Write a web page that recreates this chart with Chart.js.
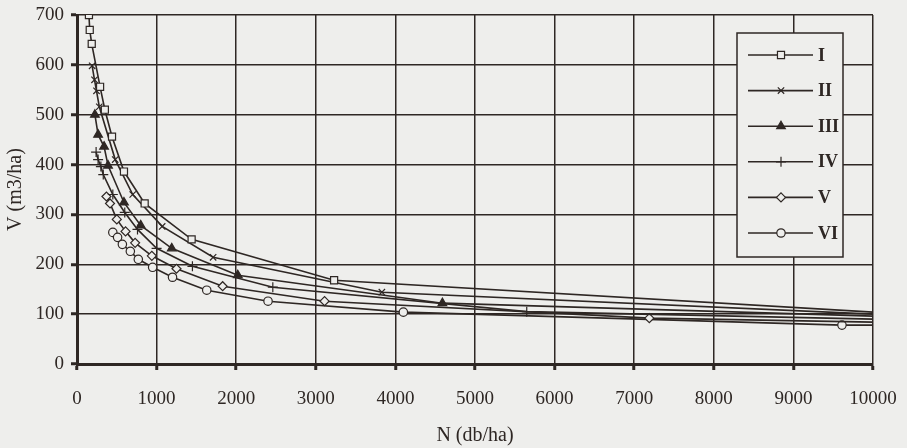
<!DOCTYPE html>
<html>
<head>
<meta charset="utf-8">
<script src="https://cdn.jsdelivr.net/npm/chart.js@4.4.0/dist/chart.umd.min.js"></script>
<style>
  html, body { margin: 0; padding: 0; background: #eeeeec; }
</style>
</head>
<body>
<canvas id="chart" width="907" height="448"></canvas>
<script>
// === V (m3/ha) vs N (db/ha) ===

const seriesLabels = ["I", "II", "III", "IV", "V", "VI"];

const nI   = [150, 160, 185, 290, 350, 440, 590, 850, 1440, 3230, 10000];
const vI   = [700, 670, 642, 556, 510, 456, 386, 322, 250, 168, 104];

const nII  = [190, 220, 245, 280, 480, 700, 1070, 1710, 3830, 10000];
const vII  = [598, 570, 548, 516, 410, 340, 276, 214, 144, 100];

const nIII = [225, 265, 340, 390, 590, 800, 1190, 2020, 4590, 10000];
const vIII = [500, 460, 436, 398, 324, 278, 232, 178, 122, 96];

const nIV  = [240, 265, 300, 330, 450, 600, 760, 1000, 1450, 2460, 5650, 10000];
const vIV  = [425, 410, 396, 380, 340, 304, 270, 232, 196, 154, 105, 90];

const nV   = [370, 415, 500, 610, 730, 940, 1250, 1830, 3110, 7190, 10000];
const vV   = [336, 322, 290, 266, 243, 217, 191, 156, 126, 92, 84];

const nVI  = [450, 510, 570, 670, 770, 950, 1200, 1630, 2400, 4100, 9610, 10000];
const vVI  = [264, 254, 240, 226, 210, 194, 174, 148, 126, 104, 78, 78];

const xTicks = [0, 1000, 2000, 3000, 4000, 5000, 6000, 7000, 8000, 9000, 10000];
const yTicks = [0, 100, 200, 300, 400, 500, 600, 700];

const INK   = "#2e2724";
const PAPER = "#eeeeec";
const FONT  = "'Liberation Serif', 'DejaVu Serif', serif";

const pointStyles = ["rect", "crossRot", "triangle", "cross", "rectRot", "circle"];
const pointRadii  = [5, 4.5, 5, 5, 4.5, 4.2];
const pointFills  = [PAPER, PAPER, INK, PAPER, PAPER, PAPER];

const toPoints = (xs, ys) => xs.map((x, i) => ({ x, y: ys[i] }));
const allSeries = [[nI, vI], [nII, vII], [nIII, vIII], [nIV, vIV], [nV, vV], [nVI, vVI]];

// the lines run on to the 10000 edge without a marker there
const datasets = allSeries.map(([xs, ys], i) => ({
  label: seriesLabels[i],
  data: toPoints(xs, ys),
  borderColor: INK,
  borderWidth: 1.6,
  backgroundColor: pointFills[i],
  pointStyle: pointStyles[i],
  markerRadius: pointRadii[i],
  pointRadius: (ctx) => (ctx.dataIndex === xs.length - 1 ? 0 : pointRadii[i]),
  pointBorderWidth: 1.2,
  pointBorderColor: INK,
  pointBackgroundColor: pointFills[i],
  tension: 0,
  fill: false,
}));

const paperPlugin = {
  id: "paper",
  beforeDraw: (chart) => {
    const ctx = chart.ctx;
    ctx.save();
    ctx.fillStyle = PAPER;
    ctx.fillRect(0, 0, chart.width, chart.height);
    ctx.restore();
  },
};

// legend box inside the plot, top right
const boxLegendPlugin = {
  id: "boxLegend",
  afterDraw: (chart) => {
    const ctx = chart.ctx;
    const left = 737, top = 33, right = 843, bottom = 257;
    ctx.save();
    ctx.fillStyle = PAPER;
    ctx.fillRect(left, top, right - left, bottom - top);
    ctx.strokeStyle = INK;
    ctx.lineWidth = 1.5;
    ctx.strokeRect(left, top, right - left, bottom - top);

    chart.data.datasets.forEach((ds, i) => {
      const y = 55 + i * 35.6;
      ctx.beginPath();
      ctx.strokeStyle = INK;
      ctx.lineWidth = 1.6;
      ctx.moveTo(748, y);
      ctx.lineTo(813, y);
      ctx.stroke();

      ctx.fillStyle = ds.pointBackgroundColor;
      ctx.strokeStyle = INK;
      ctx.lineWidth = 1.2;
      Chart.helpers.drawPoint(ctx, {
        pointStyle: ds.pointStyle,
        radius: ds.markerRadius,
        borderWidth: 1.2,
        rotation: 0,
      }, 781, y);

      ctx.fillStyle = INK;
      ctx.font = "bold 18px " + FONT;
      ctx.textAlign = "left";
      ctx.textBaseline = "middle";
      ctx.fillText(ds.label, 818, y + 1);
    });
    ctx.restore();
  },
};

new Chart(document.getElementById("chart"), {
  type: "line",
  data: { datasets },
  options: {
    responsive: false,
    animation: false,
    layout: { padding: { left: 0, right: 34, top: 15, bottom: 0 } },
    plugins: {
      legend: { display: false },
      tooltip: { enabled: false },
    },
    scales: {
      x: {
        type: "linear",
        min: 0,
        max: 10000,
        afterBuildTicks: (scale) => { scale.ticks = xTicks.map((v) => ({ value: v })); },
        afterFit: (scale) => {
          scale.height = 84;
          scale.paddingLeft = 0;
          scale.paddingRight = 0;
        },
        ticks: {
          color: INK,
          font: { size: 19, family: FONT },
          padding: 18,
          maxRotation: 0,
          callback: (v) => String(v),
        },
        grid: { color: INK, lineWidth: 1.5, tickColor: INK, tickWidth: 3, tickLength: 6 },
        border: { color: INK, width: 3 },
        title: {
          display: true,
          text: "N (db/ha)",
          color: INK,
          font: { size: 20, family: FONT },
          padding: { top: 0, bottom: 0 },
        },
      },
      y: {
        min: 0,
        max: 700,
        afterBuildTicks: (scale) => { scale.ticks = yTicks.map((v) => ({ value: v })); },
        afterFit: (scale) => {
          scale.width = 77;
          scale.paddingTop = 0;
          scale.paddingBottom = 0;
        },
        ticks: {
          color: INK,
          font: { size: 19, family: FONT },
          padding: 7,
          callback: (v) => String(v),
        },
        grid: { color: INK, lineWidth: 1.5, tickColor: INK, tickWidth: 3, tickLength: 6 },
        border: { color: INK, width: 3 },
        title: {
          display: true,
          text: "V (m3/ha)",
          color: INK,
          font: { size: 20, family: FONT },
          padding: { top: 4, bottom: 0 },
        },
      },
    },
  },
  plugins: [paperPlugin, boxLegendPlugin],
});
</script>
</body>
</html>
